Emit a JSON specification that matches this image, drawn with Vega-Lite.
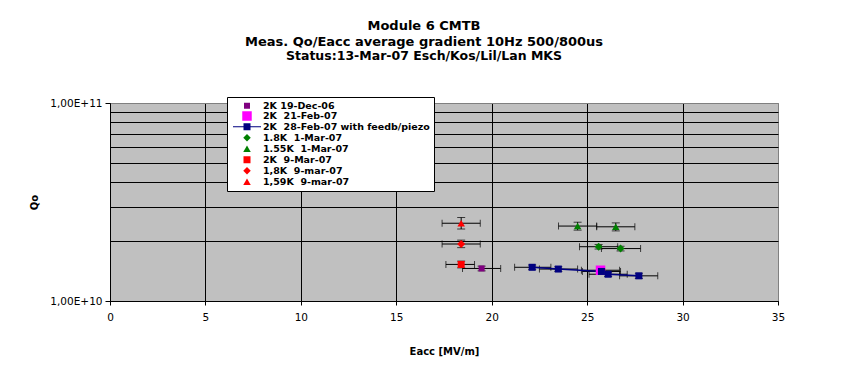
{
  "$schema": "https://vega.github.io/schema/vega-lite/v6.json",
  "autosize": "none",
  "width": 668,
  "height": 198,
  "padding": {"left": 110, "top": 103, "right": 67, "bottom": 64},
  "background": "white",
  "title": {
    "text": ["Module 6 CMTB", "Meas. Qo/Eacc average gradient 10Hz 500/800us"],
    "subtitle": "Status:13-Mar-07 Esch/Kos/Lil/Lan MKS",
    "font": "DejaVu Sans", "fontSize": 13, "fontWeight": "bold", "lineHeight": 16, "color": "#000000",
    "subtitleFont": "DejaVu Sans", "subtitleFontSize": 12.5, "subtitleFontWeight": "bold", "subtitleColor": "#000000", "subtitlePadding": 1,
    "anchor": "middle", "dx": -20, "offset": 34
  },
  "config": {
    "view": {"fill": "#C0C0C0", "stroke": "#808080", "strokeWidth": 1}
  },
  "data": {
    "values": [
      {"s": "2K 19-Dec-06", "x": 19.47, "y": 1.46e10, "xlo": 18.47, "xhi": 20.47, "ylo": 1.42e10, "yhi": 1.50e10},
      {"s": "2K\u00a0 21-Feb-07", "x": 25.7, "y": 1.43e10, "xlo": 24.7, "xhi": 26.7, "ylo": 1.39e10, "yhi": 1.47e10},
      {"s": "2K\u00a0 28-Feb-07 with feedb/piezo", "x": 22.12, "y": 1.48e10, "xlo": 21.2, "xhi": 23.1, "ylo": 1.44e10, "yhi": 1.52e10},
      {"s": "2K\u00a0 28-Feb-07 with feedb/piezo", "x": 23.49, "y": 1.45e10, "xlo": 22.5, "xhi": 24.5, "ylo": 1.41e10, "yhi": 1.49e10},
      {"s": "2K\u00a0 28-Feb-07 with feedb/piezo", "x": 25.75, "y": 1.41e10, "xlo": 24.75, "xhi": 26.75, "ylo": 1.37e10, "yhi": 1.45e10},
      {"s": "2K\u00a0 28-Feb-07 with feedb/piezo", "x": 26.1, "y": 1.365e10, "xlo": 25.1, "xhi": 27.1, "ylo": 1.33e10, "yhi": 1.40e10},
      {"s": "2K\u00a0 28-Feb-07 with feedb/piezo", "x": 27.71, "y": 1.34e10, "xlo": 26.7, "xhi": 28.7, "ylo": 1.30e10, "yhi": 1.38e10},
      {"s": "1.8K\u00a0 1-Mar-07", "x": 25.6, "y": 1.88e10, "xlo": 24.6, "xhi": 26.6, "ylo": 1.83e10, "yhi": 1.93e10},
      {"s": "1.8K\u00a0 1-Mar-07", "x": 26.75, "y": 1.84e10, "xlo": 25.75, "xhi": 27.8, "ylo": 1.79e10, "yhi": 1.89e10},
      {"s": "1.55K\u00a0 1-Mar-07", "x": 24.5, "y": 2.39e10, "xlo": 23.5, "xhi": 25.5, "ylo": 2.28e10, "yhi": 2.50e10},
      {"s": "1.55K\u00a0 1-Mar-07", "x": 26.5, "y": 2.37e10, "xlo": 25.5, "xhi": 27.5, "ylo": 2.26e10, "yhi": 2.48e10},
      {"s": "2K\u00a0 9-Mar-07", "x": 18.4, "y": 1.53e10, "xlo": 17.6, "xhi": 19.1, "ylo": 1.47e10, "yhi": 1.59e10},
      {"s": "1,8K\u00a0 9-mar-07", "x": 18.4, "y": 1.94e10, "xlo": 17.4, "xhi": 19.4, "ylo": 1.86e10, "yhi": 2.03e10},
      {"s": "1,59K\u00a0 9-mar-07", "x": 18.4, "y": 2.47e10, "xlo": 17.4, "xhi": 19.4, "ylo": 2.31e10, "yhi": 2.64e10}
    ]
  },
  "layer": [
    {
      "mark": {"type": "errorbar", "ticks": {"size": 7}, "color": "#000000", "thickness": 1},
      "encoding": {
        "x": {"field": "xlo", "type": "quantitative", "title": "Eacc [MV/m]", "scale": {"domain": [0, 35], "nice": false, "zero": false},
          "axis": {"values": [0, 5, 10, 15, 20, 25, 30, 35], "grid": true,
            "gridColor": {"condition": {"test": "datum.value == 35", "value": "#808080"}, "value": "#000000"},
            "gridWidth": 1, "domainColor": "#000000", "tickColor": "#000000", "tickSize": 4,
            "labelFont": "DejaVu Sans", "labelFontSize": 10.5, "labelColor": "#000000", "labelPadding": 7, "labelFlush": false, "labelOverlap": false,
            "titleFont": "DejaVu Sans", "titleFontSize": 10, "titleFontWeight": "bold", "titleColor": "#000000", "titlePadding": 24}},
        "x2": {"field": "xhi"},
        "y": {"field": "y", "type": "quantitative", "title": "Qo", "scale": {"type": "log", "domain": [1e10, 1e11], "nice": false},
          "axis": {"values": [1e10, 2e10, 3e10, 4e10, 5e10, 6e10, 7e10, 8e10, 9e10, 1e11], "grid": true,
            "gridColor": {"condition": {"test": "datum.value > 99999999999", "value": "#808080"}, "value": "#000000"},
            "gridWidth": 1, "domainColor": "#000000", "tickColor": "#000000", "tickSize": 5,
            "tickOpacity": {"condition": {"test": "datum.value < 10000000001 || datum.value > 99999999999", "value": 1}, "value": 0},
            "labelExpr": "datum.value < 10000000001 ? '1,00E+10' : (datum.value > 99999999999 ? '1,00E+11' : '')",
            "labelFont": "DejaVu Sans", "labelFontSize": 10.5, "labelColor": "#000000", "labelPadding": 3, "labelFlush": false, "labelOverlap": false,
            "titleFont": "DejaVu Sans", "titleFontSize": 10, "titleFontWeight": "bold", "titleColor": "#000000", "titlePadding": 10}}
      }
    },
    {
      "mark": {"type": "errorbar", "ticks": {"size": 8}, "color": "#000000", "thickness": 1},
      "encoding": {
        "x": {"field": "x", "type": "quantitative", "title": "Eacc [MV/m]"},
        "y": {"field": "ylo", "type": "quantitative", "title": "Qo"},
        "y2": {"field": "yhi"}
      }
    },
    {
      "transform": [{"filter": "indexof(datum.s, '28-Feb') >= 0"}],
      "mark": {"type": "line", "color": "#000080", "strokeWidth": 1.5},
      "encoding": {
        "x": {"field": "x", "type": "quantitative", "title": "Eacc [MV/m]"},
        "y": {"field": "y", "type": "quantitative", "title": "Qo"}
      }
    },
    {
      "layer": [
        {
          "mark": {"type": "point", "filled": true, "opacity": 1, "strokeWidth": 0},
          "encoding": {
            "x": {"field": "x", "type": "quantitative", "title": "Eacc [MV/m]"},
            "y": {"field": "y", "type": "quantitative", "title": "Qo"},
            "color": {"field": "s", "type": "nominal", "legend": null,
              "scale": {"domain": ["2K 19-Dec-06", "2K\u00a0 21-Feb-07", "2K\u00a0 28-Feb-07 with feedb/piezo", "1.8K\u00a0 1-Mar-07", "1.55K\u00a0 1-Mar-07", "2K\u00a0 9-Mar-07", "1,8K\u00a0 9-mar-07", "1,59K\u00a0 9-mar-07"],
                "range": ["#800080", "#FF00FF", "#000080", "#008000", "#008000", "#FF0000", "#FF0000", "#FF0000"]}},
            "shape": {"field": "s", "type": "nominal", "legend": null,
              "scale": {"domain": ["2K 19-Dec-06", "2K\u00a0 21-Feb-07", "2K\u00a0 28-Feb-07 with feedb/piezo", "1.8K\u00a0 1-Mar-07", "1.55K\u00a0 1-Mar-07", "2K\u00a0 9-Mar-07", "1,8K\u00a0 9-mar-07", "1,59K\u00a0 9-mar-07"],
                "range": ["square", "square", "square", "diamond", "triangle-up", "square", "diamond", "triangle-up"]}},
            "size": {"field": "s", "type": "nominal", "legend": null,
              "scale": {"type": "ordinal", "domain": ["2K 19-Dec-06", "2K\u00a0 21-Feb-07", "2K\u00a0 28-Feb-07 with feedb/piezo", "1.8K\u00a0 1-Mar-07", "1.55K\u00a0 1-Mar-07", "2K\u00a0 9-Mar-07", "1,8K\u00a0 9-mar-07", "1,59K\u00a0 9-mar-07"],
                "range": [36, 90, 49, 64, 56, 49, 64, 56]}}
          }
        },
        {
          "mark": {"type": "point", "filled": true, "opacity": 0, "strokeWidth": 0},
          "encoding": {
            "x": {"field": "x", "type": "quantitative", "title": "Eacc [MV/m]"},
            "y": {"field": "y", "type": "quantitative", "title": "Qo"},
            "color": {"field": "s", "type": "nominal",
              "legend": {"title": null, "orient": "none", "legendX": 117, "legendY": -6, "padding": 4,
                "fillColor": "#FFFFFF", "strokeColor": "#000000", "symbolOpacity": 1, "symbolStrokeWidth": 0,
                "symbolOffset": 11, "labelOffset": 11, "rowPadding": 0,
                "labelFont": "DejaVu Sans", "labelFontSize": 9.5, "labelFontWeight": "bold", "labelColor": "#000000", "labelLimit": 300,
                "encode": {"symbols": {"update": {"opacity": {"value": 1}, "fillOpacity": {"value": 1}}}}},
              "scale": {"domain": ["2K 19-Dec-06", "2K\u00a0 21-Feb-07", "2K\u00a0 28-Feb-07 with feedb/piezo", "1.8K\u00a0 1-Mar-07", "1.55K\u00a0 1-Mar-07", "2K\u00a0 9-Mar-07", "1,8K\u00a0 9-mar-07", "1,59K\u00a0 9-mar-07"],
                "range": ["#800080", "#FF00FF", "#000080", "#008000", "#008000", "#FF0000", "#FF0000", "#FF0000"]}},
            "shape": {"field": "s", "type": "nominal",
              "scale": {"domain": ["2K 19-Dec-06", "2K\u00a0 21-Feb-07", "2K\u00a0 28-Feb-07 with feedb/piezo", "1.8K\u00a0 1-Mar-07", "1.55K\u00a0 1-Mar-07", "2K\u00a0 9-Mar-07", "1,8K\u00a0 9-mar-07", "1,59K\u00a0 9-mar-07"],
                "range": ["square", "square", "M-1,-1H1V1H-1Z M-4,-0.14H-1V0.14H-4Z M1,-0.14H4V0.14H1Z", "diamond", "triangle-up", "square", "diamond", "triangle-up"]}},
            "size": {"field": "s", "type": "nominal",
              "scale": {"type": "ordinal", "domain": ["2K 19-Dec-06", "2K\u00a0 21-Feb-07", "2K\u00a0 28-Feb-07 with feedb/piezo", "1.8K\u00a0 1-Mar-07", "1.55K\u00a0 1-Mar-07", "2K\u00a0 9-Mar-07", "1,8K\u00a0 9-mar-07", "1,59K\u00a0 9-mar-07"],
                "range": [36, 90, 49, 56, 56, 49, 56, 56]}}
          }
        }
      ],
      "resolve": {"scale": {"color": "independent", "shape": "independent", "size": "independent"}}
    }
  ]
}
